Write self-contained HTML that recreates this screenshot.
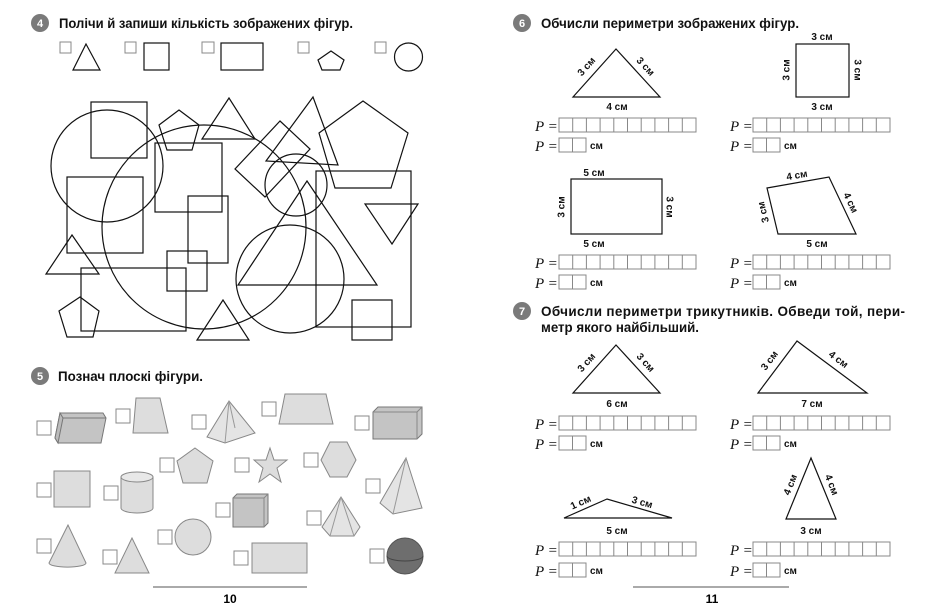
<!DOCTYPE html>
<html><head><meta charset="utf-8"><style>
html,body{margin:0;padding:0;background:#fff;}
svg{display:block;}
text{font-family:"Liberation Sans",sans-serif;}
.t{font-weight:bold;font-size:13.5px;fill:#111;}
.n{font-weight:bold;font-size:11px;fill:#fff;}
.l{font-weight:bold;font-size:10px;fill:#111;}
.p{font-family:"Liberation Serif",serif;font-style:italic;font-size:15px;fill:#111;}
.s{fill:none;stroke:#111;stroke-width:1.2;}
.cb{fill:#fff;stroke:#888;stroke-width:1;}
.g{fill:#ddd;stroke:#888;stroke-width:1;}
.gd{fill:#c4c4c4;stroke:#777;stroke-width:1;}
</style></head><body>
<svg width="940" height="609" viewBox="0 0 940 609" xmlns="http://www.w3.org/2000/svg">
<defs>
<g id="r10"><rect x="0" y="0" width="137" height="14" fill="#fff" stroke="#888"/>
<path d="M13.7 0V14M27.4 0V14M41.1 0V14M54.8 0V14M68.5 0V14M82.2 0V14M95.9 0V14M109.6 0V14M123.3 0V14" stroke="#888"/></g>
<g id="r2"><rect x="0" y="0" width="27" height="14" fill="#fff" stroke="#888"/><path d="M13.5 0V14" stroke="#888"/></g>
</defs>
<!-- Task 4 -->
<circle cx="40" cy="23" r="9" fill="#7a7a7a"/><text x="40" y="27" class="n" text-anchor="middle">4</text>
<text x="59" y="28" class="t" textLength="294" lengthAdjust="spacingAndGlyphs">Полічи й запиши кількість зображених фігур.</text>
<rect x="60" y="42" width="11" height="11" class="cb"/><polygon points="86,44 73,70 100,70" class="s"/>
<rect x="125" y="42" width="11" height="11" class="cb"/><rect x="144" y="43" width="25" height="27" class="s"/>
<rect x="202" y="42" width="12" height="11" class="cb"/><rect x="221" y="43" width="42" height="27" class="s"/>
<rect x="298" y="42" width="11" height="11" class="cb"/><polygon points="331,51 344,60 340,70 322,70 318,60" class="s"/>
<rect x="375" y="42" width="11" height="11" class="cb"/><circle cx="408.5" cy="57" r="14" class="s"/>
<!-- big composition -->
<g class="s">
<rect x="91" y="102" width="56" height="56"/>
<circle cx="107" cy="166" r="56"/>
<polygon points="179,110 199,125 192,150 167,150 159,125"/>
<polygon points="229,98 202,139 255,139"/>
<circle cx="204" cy="227" r="102"/>
<rect x="155" y="143" width="67" height="69"/>
<rect x="67" y="177" width="76" height="76"/>
<rect x="188" y="196" width="40" height="67"/>
<rect x="167" y="251" width="40" height="40"/>
<rect x="81" y="268" width="105" height="63"/>
<polygon points="72,235 46,274 99,274"/>
<polygon points="80,297 99,311 93,337 67,337 59,311"/>
<polygon points="223,300 197,340 249,340"/>
<polygon points="280,121 310,149 265,197 235,169"/>
<polygon points="313,97 266,161 338,165"/>
<circle cx="296" cy="185" r="31"/>
<polygon points="363,101 408,133 391,188 335,188 319,133"/>
<rect x="316" y="171" width="95" height="156"/>
<polygon points="365,204 418,204 392,244"/>
<polygon points="307,181 238,285 377,285"/>
<circle cx="290" cy="279" r="54"/>
<rect x="352" y="300" width="40" height="40"/>
</g>
<!-- Task 5 -->
<circle cx="40" cy="376" r="9" fill="#7a7a7a"/><text x="40" y="380" class="n" text-anchor="middle">5</text>
<text x="58" y="381" class="t" textLength="145" lengthAdjust="spacingAndGlyphs">Познач плоскі фігури.</text>
<rect x="37" y="421" width="14" height="14" class="cb"/>
<g><polygon points="60,413 103,413 106,418 101,443 58,443 55,438" class="gd"/><polygon points="60,413 55,438 58,443 63,418" fill="#bbb" stroke="#777"/><path d="M63,418 L106,418" stroke="#777"/></g>
<rect x="116" y="409" width="14" height="14" class="cb"/><polygon points="136,398 160,398 168,433 133,433" class="g"/>
<rect x="192" y="415" width="14" height="14" class="cb"/><polygon points="229,401 207,437 225,443 255,433" fill="#e4e4e4" stroke="#888"/><path d="M229,401 L225,443 M229,401 L235,428" stroke="#999" fill="none"/>
<rect x="262" y="402" width="14" height="14" class="cb"/><polygon points="285,394 326,394 333,424 279,424" class="g"/>
<rect x="355" y="416" width="14" height="14" class="cb"/><polygon points="373,412 378,407 422,407 422,434 417,439 373,439" class="gd"/><path d="M373,412 H417 V439 M417,412 L422,407" stroke="#888" fill="none"/>
<rect x="160" y="458" width="14" height="14" class="cb"/><polygon points="195,448 213,461 207,483 183,483 177,461" class="g"/>
<rect x="235" y="458" width="14" height="14" class="cb"/><polygon points="270,448 274,460 287,460 277,468 281,482 270,474 259,482 263,468 254,460 266,460" class="g"/>
<rect x="304" y="453" width="14" height="14" class="cb"/><polygon points="330,442 347,442 356,460 347,477 330,477 321,460" class="g"/>
<rect x="37" y="483" width="14" height="14" class="cb"/><rect x="54" y="471" width="36" height="36" class="g"/>
<rect x="104" y="486" width="14" height="14" class="cb"/><path d="M121,477 V508 A16,5 0 0 0 153,508 V477" class="g"/><ellipse cx="137" cy="477" rx="16" ry="5" fill="#e8e8e8" stroke="#888"/>
<rect x="216" y="503" width="14" height="14" class="cb"/><polygon points="233,498 237,494 268,494 268,523 264,527 233,527" class="gd"/><path d="M233,498 H264 V527 M264,498 L268,494" stroke="#888" fill="none"/>
<rect x="307" y="511" width="14" height="14" class="cb"/><polygon points="341,497 322,527 330,536 354,536 360,527" fill="#e4e4e4" stroke="#888"/><path d="M341,497 L330,536 M341,497 L354,536" stroke="#999"/>
<rect x="366" y="479" width="14" height="14" class="cb"/><polygon points="406,458 380,503 393,514 422,508" fill="#e4e4e4" stroke="#888"/><path d="M406,458 L393,514" stroke="#999"/>
<rect x="37" y="539" width="14" height="14" class="cb"/><path d="M68,525 L49,563 A18,4 0 0 0 86,563 Z" class="g"/>
<rect x="103" y="550" width="14" height="14" class="cb"/><polygon points="132,538 115,573 149,573" class="g"/>
<rect x="158" y="530" width="14" height="14" class="cb"/><circle cx="193" cy="537" r="18" class="g"/>
<rect x="234" y="551" width="14" height="14" class="cb"/><rect x="252" y="543" width="55" height="30" class="g"/>
<rect x="370" y="549" width="14" height="14" class="cb"/><circle cx="405" cy="556" r="18" fill="#6e6e6e" stroke="#555"/><path d="M387,556 A18,5 0 0 0 423,556" stroke="#444" fill="none"/>
<line x1="153" y1="587" x2="307" y2="587" stroke="#555"/>
<text x="230" y="603" text-anchor="middle" style="font-size:12px;font-weight:bold">10</text>
<!-- Task 6 -->
<circle cx="522" cy="23" r="9" fill="#7a7a7a"/><text x="522" y="27" class="n" text-anchor="middle">6</text>
<text x="541" y="28" class="t" textLength="258" lengthAdjust="spacingAndGlyphs">Обчисли периметри зображених фігур.</text>
<polygon points="616,49 573,97 660,97" class="s"/>
<text class="l" text-anchor="middle" dominant-baseline="central" transform="translate(587,67) rotate(-48)">3 см</text>
<text class="l" text-anchor="middle" dominant-baseline="central" transform="translate(645,67) rotate(47)">3 см</text>
<text class="l" x="617" y="110" text-anchor="middle">4 см</text>
<rect x="796" y="44" width="53" height="53" class="s"/>
<text class="l" x="822" y="40" text-anchor="middle">3 см</text>
<text class="l" x="822" y="110" text-anchor="middle">3 см</text>
<text class="l" text-anchor="middle" dominant-baseline="central" transform="translate(787,70) rotate(-90)">3 см</text>
<text class="l" text-anchor="middle" dominant-baseline="central" transform="translate(857,70) rotate(90)">3 см</text>
<rect x="571" y="179" width="91" height="55" class="s"/>
<text class="l" x="594" y="176" text-anchor="middle">5 см</text>
<text class="l" x="594" y="247" text-anchor="middle">5 см</text>
<text class="l" text-anchor="middle" dominant-baseline="central" transform="translate(562,207) rotate(-90)">3 см</text>
<text class="l" text-anchor="middle" dominant-baseline="central" transform="translate(669,207) rotate(90)">3 см</text>
<polygon points="767,188 829,177 856,234 778,234" class="s"/>
<text class="l" text-anchor="middle" dominant-baseline="central" transform="translate(797,176) rotate(-10)">4 см</text>
<text class="l" text-anchor="middle" dominant-baseline="central" transform="translate(850,203) rotate(64)">4 см</text>
<text class="l" text-anchor="middle" dominant-baseline="central" transform="translate(764,212) rotate(-104)">3 см</text>
<text class="l" x="817" y="247" text-anchor="middle">5 см</text>
<!-- Task 7 -->
<circle cx="522" cy="311" r="9" fill="#7a7a7a"/><text x="522" y="315" class="n" text-anchor="middle">7</text>
<text x="541" y="316" class="t" textLength="364" lengthAdjust="spacing">Обчисли периметри трикутників. Обведи той, пери-</text>
<text x="541" y="332" class="t" textLength="158" lengthAdjust="spacingAndGlyphs">метр якого найбільший.</text>
<polygon points="616,345 573,393 660,393" class="s"/>
<text class="l" text-anchor="middle" dominant-baseline="central" transform="translate(587,363) rotate(-48)">3 см</text>
<text class="l" text-anchor="middle" dominant-baseline="central" transform="translate(645,363) rotate(48)">3 см</text>
<text class="l" x="617" y="407" text-anchor="middle">6 см</text>
<polygon points="797,341 758,393 867,393" class="s"/>
<text class="l" text-anchor="middle" dominant-baseline="central" transform="translate(770,361) rotate(-53)">3 см</text>
<text class="l" text-anchor="middle" dominant-baseline="central" transform="translate(838,360) rotate(37)">4 см</text>
<text class="l" x="812" y="407" text-anchor="middle">7 см</text>
<polygon points="607,499 564,518 672,518" class="s"/>
<text class="l" text-anchor="middle" dominant-baseline="central" transform="translate(581,503) rotate(-24)">1 см</text>
<text class="l" text-anchor="middle" dominant-baseline="central" transform="translate(642,503) rotate(16)">3 см</text>
<text class="l" x="617" y="534" text-anchor="middle">5 см</text>
<polygon points="811,458 786,519 836,519" class="s"/>
<text class="l" text-anchor="middle" dominant-baseline="central" transform="translate(791,485) rotate(-68)">4 см</text>
<text class="l" text-anchor="middle" dominant-baseline="central" transform="translate(831,485) rotate(68)">4 см</text>
<text class="l" x="811" y="534" text-anchor="middle">3 см</text>
<!-- answer rows -->
<g>
<text class="p" x="535" y="131">P =</text><use href="#r10" x="559" y="118"/>
<text class="p" x="535" y="151">P =</text><use href="#r2" x="559" y="138"/><text class="l" x="590" y="149">см</text>
<text class="p" x="730" y="131">P =</text><use href="#r10" x="753" y="118"/>
<text class="p" x="730" y="151">P =</text><use href="#r2" x="753" y="138"/><text class="l" x="784" y="149">см</text>
<text class="p" x="535" y="268">P =</text><use href="#r10" x="559" y="255"/>
<text class="p" x="535" y="288">P =</text><use href="#r2" x="559" y="275"/><text class="l" x="590" y="286">см</text>
<text class="p" x="730" y="268">P =</text><use href="#r10" x="753" y="255"/>
<text class="p" x="730" y="288">P =</text><use href="#r2" x="753" y="275"/><text class="l" x="784" y="286">см</text>
<text class="p" x="535" y="429">P =</text><use href="#r10" x="559" y="416"/>
<text class="p" x="535" y="449">P =</text><use href="#r2" x="559" y="436"/><text class="l" x="590" y="447">см</text>
<text class="p" x="730" y="429">P =</text><use href="#r10" x="753" y="416"/>
<text class="p" x="730" y="449">P =</text><use href="#r2" x="753" y="436"/><text class="l" x="784" y="447">см</text>
<text class="p" x="535" y="555">P =</text><use href="#r10" x="559" y="542"/>
<text class="p" x="535" y="576">P =</text><use href="#r2" x="559" y="563"/><text class="l" x="590" y="574">см</text>
<text class="p" x="730" y="555">P =</text><use href="#r10" x="753" y="542"/>
<text class="p" x="730" y="576">P =</text><use href="#r2" x="753" y="563"/><text class="l" x="784" y="574">см</text>
</g>
<line x1="633" y1="587" x2="789" y2="587" stroke="#555"/>
<text x="712" y="603" text-anchor="middle" style="font-size:12px;font-weight:bold">11</text>
</svg>
</body></html>
